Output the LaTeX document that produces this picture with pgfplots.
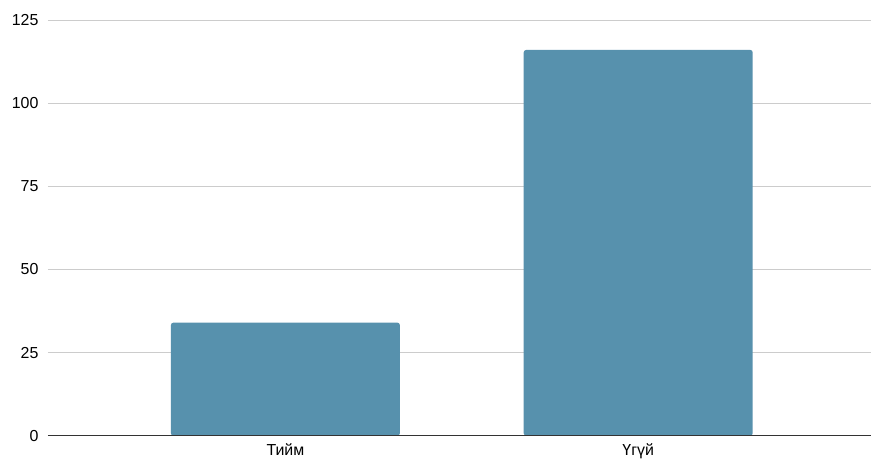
\documentclass[border=0pt]{standalone}
\usepackage{pgfplots}
\pgfplotsset{compat=1.18}
\usepackage{fontspec}
\setmainfont{Liberation Sans}
\definecolor{barblue}{HTML}{5791AD}
\definecolor{gridgray}{HTML}{CCCCCC}
\definecolor{basegray}{HTML}{333333}
\begin{document}
\begin{tikzpicture}
\begin{axis}[
  scale only axis,
  width=824bp, height=416bp,
  xmin=-0.673, xmax=1.661,
  ymin=0, ymax=125,
  ytick={0,25,50,75,100,125},
  xtick=data,
  xticklabels={Тийм, Үгүй},
  axis line style={draw=none},
  major tick length=0pt,
  ymajorgrids,
  grid style={gridgray, line width=0.8bp},
  tick label style={font=\fontsize{16}{19}\selectfont},
  /pgf/number format/assume math mode=true,
  yticklabel style={xshift=-6bp},
  xticklabel style={yshift=-4bp},
  ybar, bar width=0.649,
  clip=false,
]
\addplot[fill=barblue, draw=none, rounded corners=2.5bp] coordinates {(0,34) (1,116)};
\draw[basegray, line width=1.2bp] (axis cs:-0.673,0) -- (axis cs:1.661,0);
\end{axis}
\path (current axis.south west) ++(-48bp,-30bp);
\path (current axis.north east) ++(0bp,20bp);
\end{tikzpicture}
\end{document}
